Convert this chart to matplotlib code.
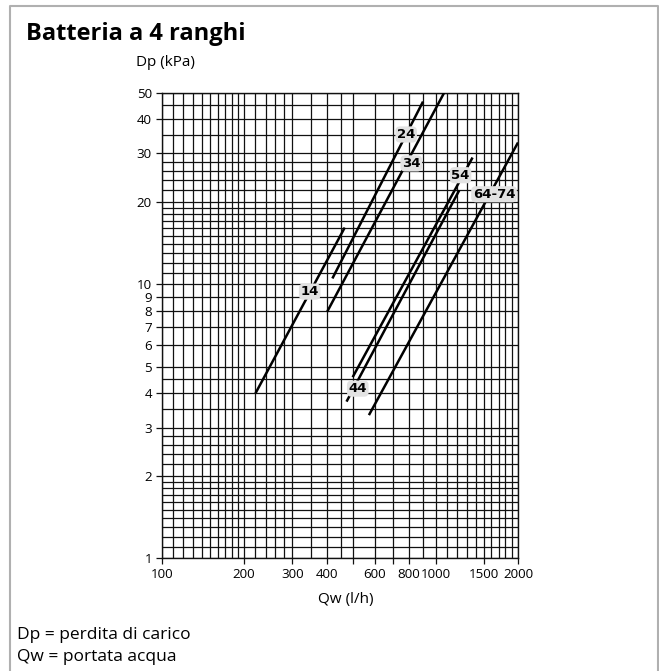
import matplotlib
matplotlib.use('Agg')
import matplotlib.pyplot as plt
from matplotlib.lines import Line2D
from matplotlib.ticker import FixedLocator, FixedFormatter, NullFormatter

plt.rcParams['font.family'] = ['Open Sans', 'DejaVu Sans']

# curves (straight on log-log): end points Qw (l/h), Dp (kPa)
series = ['14', '24', '34', '44', '54', '64-74']
qw_start = [220, 420, 402, 473, 498, 571]
qw_end = [466, 900, 1075, 1220, 1365, 2000]
dp_start = [4.0, 10.5, 7.94, 3.73, 4.58, 3.33]
dp_end = [16.1, 46.4, 50.0, 22.0, 29.0, 32.9]

# where the grey tags sit
tag_qw = [347, 781, 815, 520, 1234, 1635]
tag_dp = [9.4, 35.2, 27.6, 4.16, 25.0, 21.3]

# printed grid + ticks
mantissa = [1.0, 1.1, 1.2, 1.3, 1.4, 1.5, 1.6, 1.7, 1.8, 1.9, 2.0,
            2.2, 2.4, 2.6, 2.8, 3.0, 3.5, 4.0, 4.5, 5.0, 6.0, 7.0, 8.0, 9.0]
x_grid = [m * 100 for m in mantissa] + [m * 1000 for m in mantissa if m <= 2.0]
y_grid = [m for m in mantissa] + [m * 10 for m in mantissa if m <= 5.0]
x_ticks = [100, 200, 300, 400, 500, 600, 700, 800, 1000, 1500, 2000]
x_labels = ['100', '200', '300', '400', '', '600', '', '800', '1000', '1500', '2000']
y_ticks = [1, 2, 3, 4, 5, 6, 7, 8, 9, 10, 20, 30, 40, 50]
y_labels = [str(v) for v in y_ticks]

W, H = 659, 671
fig = plt.figure(figsize=(W / 100, H / 100), dpi=100)


def fx(px):
    return px / W


def fy(py):
    return 1 - py / H


ax = fig.add_axes([fx(161.7), fy(558.3), fx(518) - fx(161.7), fy(92.7) - fy(558.3)])
ax.set_xscale('log')
ax.set_yscale('log')
ax.set_xlim(100, 2000)
ax.set_ylim(1, 50)

ax.xaxis.set_major_locator(FixedLocator(x_ticks))
ax.xaxis.set_major_formatter(FixedFormatter(x_labels))
ax.xaxis.set_minor_locator(FixedLocator(x_grid))
ax.xaxis.set_minor_formatter(NullFormatter())
ax.yaxis.set_major_locator(FixedLocator(y_ticks))
ax.yaxis.set_major_formatter(FixedFormatter(y_labels))
ax.yaxis.set_minor_locator(FixedLocator(y_grid))
ax.yaxis.set_minor_formatter(NullFormatter())

ax.tick_params(which='major', direction='out', length=4, width=0.9, color='#111111',
               labelsize=9.6, pad=3)
ax.tick_params(which='minor', length=0)
ax.grid(True, which='both', color='#111111', lw=0.9)
ax.set_axisbelow(True)
for sp in ax.spines.values():
    sp.set_color('#111111')
    sp.set_linewidth(1.0)

for i in range(len(series)):
    ax.plot([qw_start[i], qw_end[i]], [dp_start[i], dp_end[i]],
            color='black', lw=1.8, solid_capstyle='butt', zorder=3)
    ax.text(tag_qw[i], tag_dp[i], series[i], ha='center', va='center',
            fontsize=9.5, fontweight='bold', family='DejaVu Sans', zorder=4,
            bbox=dict(boxstyle='round,pad=0.12,rounding_size=0.35', fc='#e2e2e2', ec='none'))

# frame around the sheet
fig.add_artist(Line2D([fx(10), fx(10), fx(657.7), fx(657.7)], [0, fy(5.7), fy(5.7), 0],
                      color='#b0b0b0', lw=1.5, transform=fig.transFigure))

fig.text(fx(26), fy(39.5), 'Batteria a 4 ranghi', fontsize=17, fontweight='bold', va='baseline')
fig.text(fx(136), fy(66), 'Dp (kPa)', fontsize=11, va='baseline')
fig.text(fx(346), fy(603.5), 'Qw (l/h)', fontsize=11, ha='center', va='baseline')
fig.text(fx(17), fy(639), 'Dp = perdita di carico', fontsize=12.5, va='baseline')
fig.text(fx(17), fy(661), 'Qw = portata acqua', fontsize=12.5, va='baseline')

fig.savefig('out.png', dpi=100)
